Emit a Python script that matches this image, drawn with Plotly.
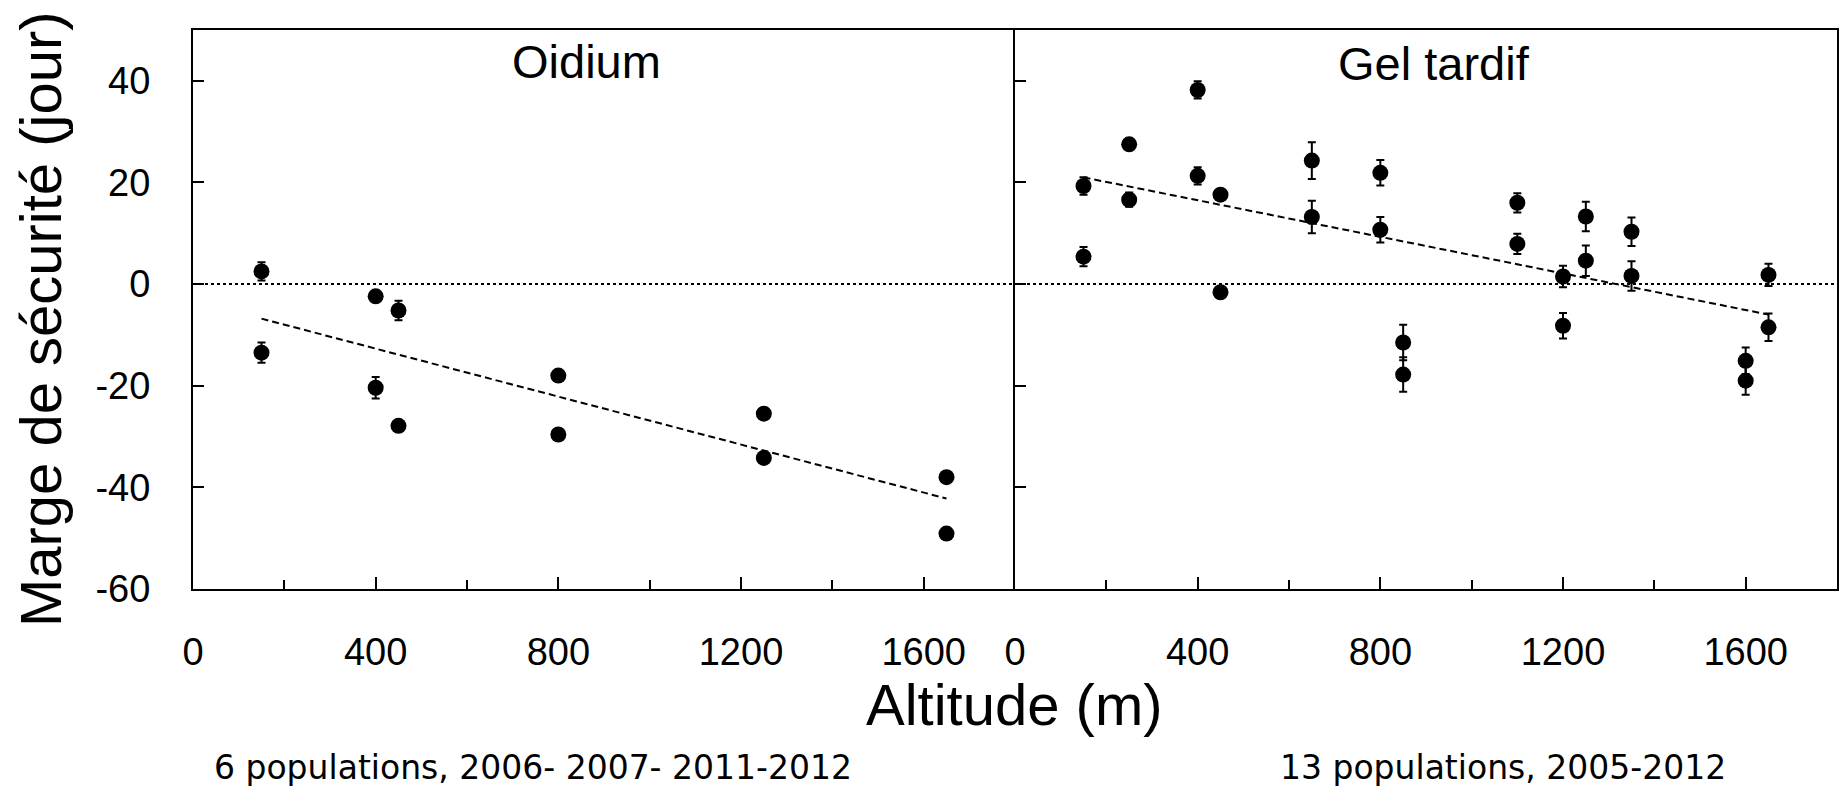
import plotly.graph_objects as go

# Oidium panel: site altitude (m), safety margin (days), standard error
oidium_altitude = [150, 150, 400, 400, 450, 450, 800, 800, 1250, 1250, 1650, 1650]
oidium_margin = [2.5, -13.5, -2.4, -20.4, -5.2, -27.9, -18.0, -29.6, -25.5, -34.2, -38.0, -49.1]
oidium_error = [1.8, 2.0, 0.6, 2.1, 1.9, 0.6, 0.6, 0.6, 0.6, 0.6, 0.6, 0.6]

# Late frost panel
gel_altitude = [150, 150, 250, 250, 400, 400, 450, 450, 650, 650, 800, 800, 850,
                850, 1100, 1100, 1200, 1200, 1250, 1250, 1350, 1350, 1600, 1600,
                1650, 1650]
gel_margin = [19.3, 5.4, 27.5, 16.6, 38.2, 21.3, 17.6, -1.6, 24.3, 13.2, 21.9, 10.7,
              -11.5, -17.8, 16.0, 7.9, 1.5, -8.2, 13.3, 4.6, 10.3, 1.6, -15.1, -19.0,
              1.8, -8.5]
gel_error = [1.7, 1.9, 1.1, 1.4, 1.7, 1.7, 0.6, 0.6, 3.6, 3.2, 2.5, 2.5, 3.5, 3.4,
             1.9, 2.0, 2.1, 2.5, 2.9, 3.0, 2.8, 2.9, 2.6, 2.8, 2.2, 2.7]

# Linear trends, evaluated at the lowest and highest sites
trend_altitude = [150, 1650]
oidium_trend = [-6.8, -42.2]
gel_trend = [21.0, -6.0]

panel_titles = ["Oidium", "Gel tardif"]
panel_notes = ["6 populations, 2006- 2007- 2011-2012", "13 populations, 2005-2012"]
x_tick_values = [0, 400, 800, 1200, 1600]
y_tick_values = [-60, -40, -20, 0, 20, 40]
y_tick_text = ["-60", "-40", "-20", "0", "20", "40"]
y_label = "Marge de sécurité (jour)"
x_label = "Altitude (m)"

AXIS_FONT = "Liberation Sans, Arial, sans-serif"
NOTE_FONT = "DejaVu Sans, sans-serif"

fig = go.Figure()

panels = [
    ("x", "y", oidium_altitude, oidium_margin, oidium_error, oidium_trend),
    ("x2", "y2", gel_altitude, gel_margin, gel_error, gel_trend),
]
for xa, ya, alt, margin, err, trend in panels:
    fig.add_trace(go.Scatter(
        x=trend_altitude, y=trend, mode="lines", xaxis=xa, yaxis=ya,
        line=dict(color="black", width=2, dash="7px,4px"),
        hoverinfo="skip",
    ))
    fig.add_trace(go.Scatter(
        x=alt, y=margin, mode="markers", xaxis=xa, yaxis=ya,
        marker=dict(size=16, color="black"),
        error_y=dict(type="data", array=err, visible=True, color="black",
                     thickness=2, width=4),
    ))
    # dotted reference line at zero margin
    fig.add_shape(type="line", xref=f"{xa} domain", yref=ya, x0=0, x1=1, y0=0, y1=0,
                  line=dict(color="black", width=2, dash="dot"), layer="below")

def x_axis(domain, anchor):
    return dict(
        domain=domain, anchor=anchor, range=[0, 1800],
        tickvals=x_tick_values, ticks="inside", ticklen=12, tickwidth=2,
        tickcolor="black",
        minor=dict(dtick=200, tick0=0, ticks="inside", ticklen=9, tickwidth=2,
                   tickcolor="black"),
        showline=True, linewidth=2, linecolor="black", mirror=True,
        showgrid=False, zeroline=False,
        tickfont=dict(family=AXIS_FONT, size=38, color="black"),
        ticklabelstandoff=28,
    )

def y_axis(anchor, labels, mirror):
    return dict(
        anchor=anchor, range=[-60, 50], tickvals=y_tick_values, ticktext=y_tick_text,
        ticks="inside", ticklen=11, tickwidth=2, tickcolor="black",
        showline=True, linewidth=2, linecolor="black", mirror=mirror,
        showgrid=False, zeroline=False, showticklabels=labels,
        tickfont=dict(family=AXIS_FONT, size=38, color="black"),
        ticklabelstandoff=33,
    )

annotations = [
    dict(text=panel_titles[0], x=0.2394, y=0.9428),
    dict(text=panel_titles[1], x=0.7546, y=0.940),
]
for a in annotations:
    a.update(xref="paper", yref="paper", showarrow=False, xanchor="center",
             yanchor="middle", font=dict(family=AXIS_FONT, size=47, color="black"))

annotations += [
    dict(text=y_label, x=-0.093, y=0.483, textangle=-90, xref="paper", yref="paper",
         showarrow=False, xanchor="center", yanchor="middle",
         font=dict(family=AXIS_FONT, size=58, color="black")),
    dict(text=x_label, x=0.4994, y=-0.2075, xref="paper", yref="paper",
         showarrow=False, xanchor="center", yanchor="middle",
         font=dict(family=AXIS_FONT, size=58, color="black")),
    dict(text=panel_notes[0], x=0.2066, y=-0.320, xref="paper", yref="paper",
         showarrow=False, xanchor="center", yanchor="middle",
         font=dict(family=NOTE_FONT, size=33, color="black")),
    dict(text=panel_notes[1], x=0.7971, y=-0.320, xref="paper", yref="paper",
         showarrow=False, xanchor="center", yanchor="middle",
         font=dict(family=NOTE_FONT, size=33, color="black")),
]

fig.update_layout(
    width=1841, height=793,
    margin=dict(l=193, r=2, t=30, b=204),
    paper_bgcolor="white", plot_bgcolor="white",
    showlegend=False,
    xaxis=x_axis([0, 0.5], "y"),
    xaxis2=x_axis([0.5, 1], "y2"),
    # the right panel's left spine doubles as the divider between panels
    yaxis=y_axis("x", True, False),
    yaxis2=y_axis("x2", False, True),
    annotations=annotations,
)

fig.write_html("out.html")
